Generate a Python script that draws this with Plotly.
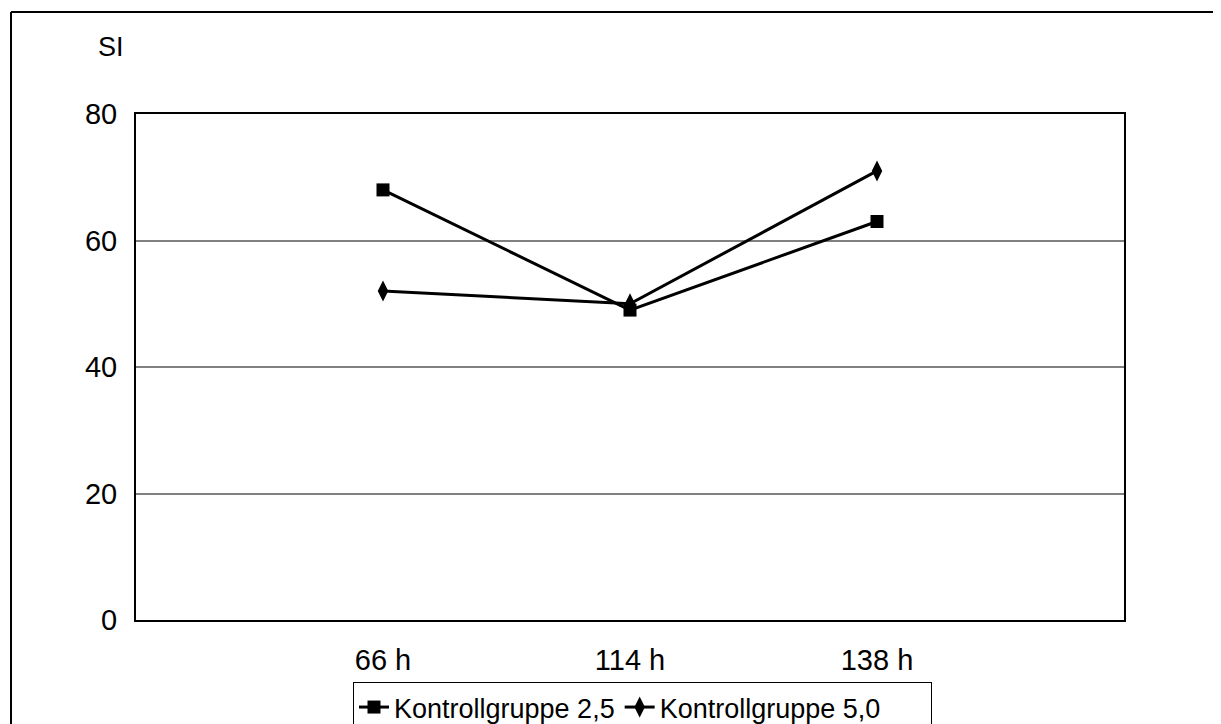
import plotly.graph_objects as go

categories = ["66 h", "114 h", "138 h"]
kg25 = [68, 49, 63]
kg50 = [52, 50, 71]
y_ticks = [0, 20, 40, 60, 80]
series_names = ["Kontrollgruppe 2,5", "Kontrollgruppe 5,0"]

# page offset (default body margin of the html page)
OFF = 8
W, H = 1221, 724
# plot area in page pixels: x 136..1124, y 114..620
L = 136 - OFF
T = 114 - OFF
R = W - (1124 - OFF)
B = H - (620 - OFF)
pw, ph = W - L - R, H - T - B


def px(x_page):
    return (x_page - OFF - L) / pw


def py(y_page):
    return (H - B - (y_page - OFF)) / ph


xpos = list(range(len(categories)))
NB = "\u00a0"

fig = go.Figure()
fig.add_trace(go.Scatter(
    x=xpos, y=kg25, mode="lines+markers", name=series_names[0],
    line=dict(color="black", width=3),
    marker=dict(symbol="square", size=13, color="black"),
))
fig.add_trace(go.Scatter(
    x=xpos, y=kg50, mode="lines+markers", name=series_names[1] + NB * 6,
    line=dict(color="black", width=3),
    marker=dict(symbol="diamond-tall", size=15, color="black"),
))

font_main = "Liberation Sans, Arial, sans-serif"

fig.update_layout(
    width=W, height=H,
    margin=dict(l=L, r=R, t=T, b=B, autoexpand=False),
    paper_bgcolor="white", plot_bgcolor="white",
    font=dict(family=font_main, color="black", size=27),
    showlegend=True,
    legend=dict(
        orientation="h", x=px(353), y=py(682), xanchor="left", yanchor="top",
        bordercolor="black", borderwidth=1, bgcolor="white",
        font=dict(family=font_main, size=27),
        itemwidth=30,
    ),
    xaxis=dict(
        range=[-1, 3], tickvals=xpos, ticktext=categories,
        showgrid=False, zeroline=False,
        showline=True, linecolor="black", linewidth=2, mirror=True,
        ticks="", ticklabelstandoff=13,
        tickfont=dict(size=29),
    ),
    yaxis=dict(
        range=[0, 80], tickvals=y_ticks,
        showgrid=True, gridcolor="#808080", gridwidth=1.5,
        zeroline=False,
        showline=True, linecolor="black", linewidth=2, mirror=True,
        ticks="", ticklabelstandoff=11,
        tickfont=dict(size=29),
    ),
    shapes=[
        dict(type="line", xref="paper", yref="paper",
             x0=px(11), x1=px(1500), y0=py(12), y1=py(12),
             line=dict(color="black", width=2), layer="below"),
        dict(type="line", xref="paper", yref="paper",
             x0=px(11), x1=px(11), y0=py(12), y1=py(900),
             line=dict(color="black", width=2), layer="below"),
    ],
    annotations=[dict(
        text="SI", xref="paper", yref="paper", x=px(111), y=py(47),
        xanchor="center", yanchor="middle", showarrow=False,
        font=dict(size=27, family=font_main),
    )],
)

fig.write_html("out.html")
